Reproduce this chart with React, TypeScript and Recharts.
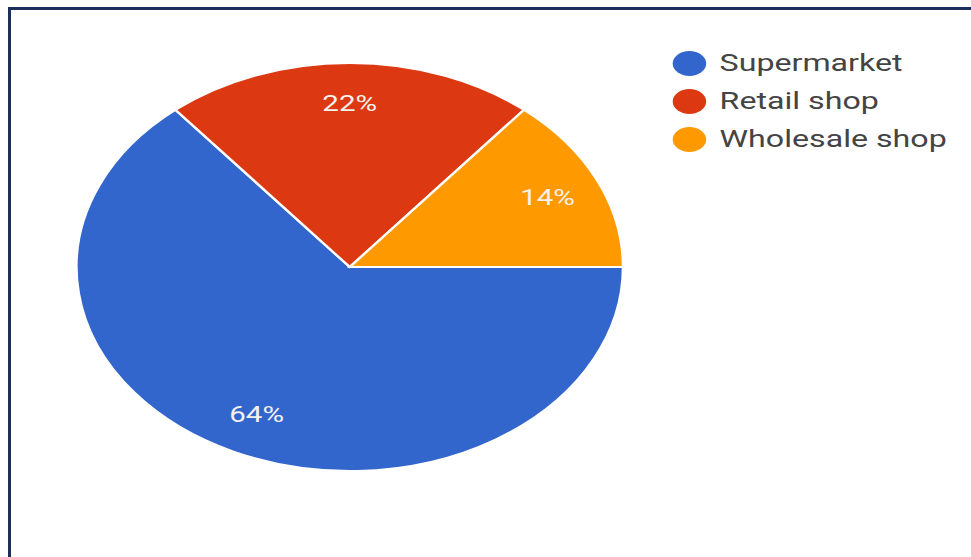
import { PieChart, Pie, Cell, Legend } from 'recharts';

const shops = ['Supermarket', 'Retail shop', 'Wholesale shop'];
const shares = [64, 22, 14];
const colors = ['#3366cc', '#dc3912', '#ff9900'];

const data = shops.map((name, i) => ({ name, value: shares[i] }));

const STRETCH = 1.34;
const RAD = Math.PI / 180;

const renderLabel = (props: any) => {
   const { cx, cy, midAngle, outerRadius, value } = props;
   const r = outerRadius * 0.8;
   const x = cx + r * Math.cos(-midAngle * RAD);
   const y = cy + r * Math.sin(-midAngle * RAD);
   return (
      <text
         x={x}
         y={y}
         fill='#f4f1ee'
         fontSize={22}
         fontFamily='Roboto, sans-serif'
         textAnchor='middle'
         dominantBaseline='central'
      >
         {`${value}%`}
      </text>
   );
};

const renderLegend = (props: any) => {
   // keep the order of the data, not alphabetical
   const payload = [...(props.payload || [])].sort(
      (a: any, b: any) => shops.indexOf(a.value) - shops.indexOf(b.value)
   );
   return (
      <div style={{ fontFamily: 'Roboto, sans-serif' }}>
         {payload.map((entry: any) => (
            <div
               key={entry.value}
               style={{ display: 'flex', alignItems: 'center', height: 38 }}
            >
               <span
                  style={{
                     width: 25,
                     height: 25,
                     borderRadius: '50%',
                     background: entry.color,
                     marginRight: 10
                  }}
               />
               <span style={{ fontSize: 24, color: '#444444' }}>{entry.value}</span>
            </div>
         ))}
      </div>
   );
};

export default function App() {
   return (
      <div
         style={{
            position: 'absolute',
            left: 0,
            top: 0,
            width: 971,
            height: 557,
            overflow: 'hidden',
            background: '#ffffff'
         }}
      >
         <div
            style={{
               position: 'absolute',
               left: 8,
               top: 7,
               width: 980,
               height: 570,
               borderTop: '3px solid #1c2f5a',
               borderLeft: '3px solid #1c2f5a'
            }}
         />
         <div
            style={{
               position: 'absolute',
               left: 0,
               top: 0,
               transform: `scaleX(${STRETCH})`,
               transformOrigin: '0 0'
            }}
         >
            <PieChart width={725} height={557}>
               <Pie
                  data={data}
                  dataKey='value'
                  nameKey='name'
                  cx={256}
                  cy={262}
                  outerRadius={204}
                  startAngle={0}
                  endAngle={-360}
                  stroke='#ffffff'
                  strokeWidth={2}
                  label={renderLabel}
                  labelLine={false}
                  isAnimationActive={false}
               >
                  {data.map((d, i) => (
                     <Cell key={d.name} fill={colors[i]} />
                  ))}
               </Pie>
               <Legend
                  content={renderLegend}
                  layout='vertical'
                  verticalAlign='middle'
                  align='center'
                  wrapperStyle={{ left: 502, top: 44, width: 220 }}
               />
            </PieChart>
         </div>
      </div>
   );
}
